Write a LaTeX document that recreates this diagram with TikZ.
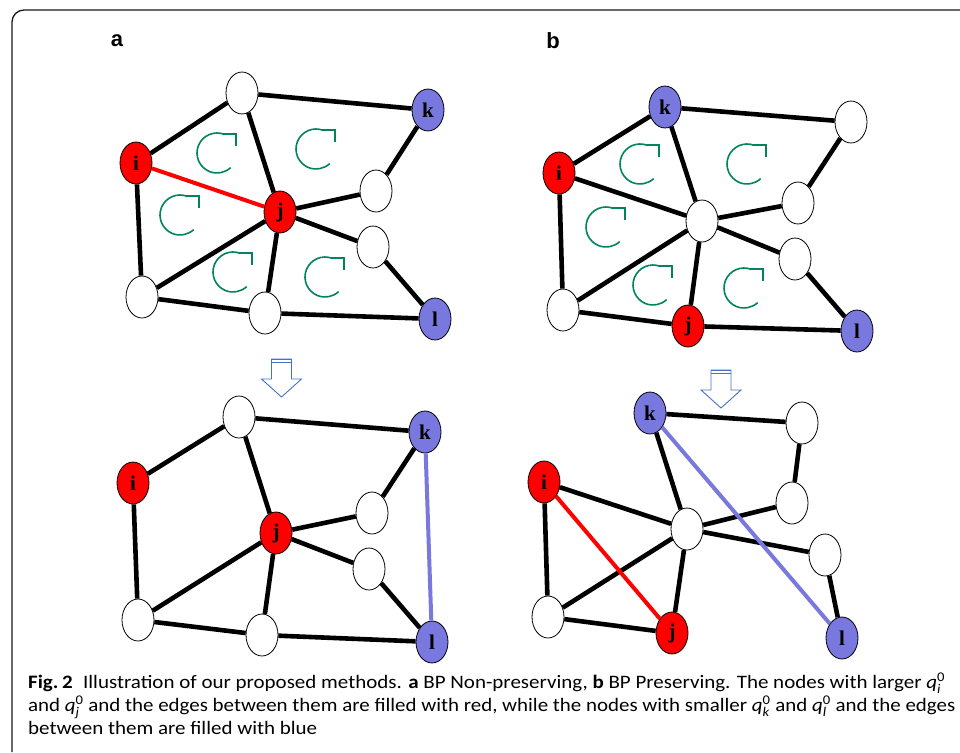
\documentclass[tikz,border=0pt]{standalone}
\usepackage{fontspec}
\usepackage{graphicx}
\usepackage{amsmath}
\setmainfont{Liberation Serif}
\newfontfamily\capfont{Carlito}
\newfontfamily\labfont{Liberation Sans}
\usetikzlibrary{shapes.geometric}
\definecolor{nodeblue}{RGB}{120,120,222}
\definecolor{rotgreen}{RGB}{0,132,92}
\definecolor{arrblue}{RGB}{68,114,196}
\newcommand\qsym[1]{$\text{\capfont\itshape q}^{\text{\capfont 0}}_{\text{\capfont\itshape #1}}$}
\begin{document}
\begin{tikzpicture}[x=1pt,y=-1pt,
  vtx/.style={ellipse, draw=black, line width=0.8pt, minimum width=32pt, minimum height=42pt,
    inner sep=0pt, fill=white, font=\bfseries\fontsize{21}{21}\selectfont},
  rnode/.style={vtx, fill=red},
  bnode/.style={vtx, fill=nodeblue},
  edge/.style={line width=4.6pt, black},
  redge/.style={line width=4pt, red},
  bedge/.style={line width=4pt, nodeblue},
  panel/.style={font=\labfont\bfseries\fontsize{22}{22}\selectfont, inner sep=0pt},
  capline/.style={anchor=base west, inner sep=0pt, font=\capfont\fontsize{19}{19}\selectfont},
  spin/.pic={
    \draw[rotgreen, line width=1.6pt] (68:20pt) arc[start angle=68, end angle=313, radius=20pt];
    \draw[rotgreen, line width=1.6pt] (6pt,19pt) -- (19pt,19pt) -- (19pt,7pt);
  },
  downarrow/.pic={
    \draw[arrblue, line width=0.9pt, fill=white, line join=miter]
      (-10pt,0pt) -- (10pt,0pt) -- (10pt,-20pt) -- (20pt,-20pt) -- (0pt,-38pt)
      -- (-20pt,-20pt) -- (-10pt,-20pt) -- cycle;
    \draw[arrblue, line width=1.6pt] (-10pt,-0.5pt) -- (10pt,-0.5pt);
    \draw[arrblue, line width=1.2pt] (-10pt,-3.8pt) -- (10pt,-3.8pt);
  }]
\useasboundingbox (0,0) rectangle (960,752);
% frame
\draw[black!90, line width=1.3pt] (12,752) -- (12,22) arc[start angle=180, end angle=90, radius=12pt] -- (960,10);

\node[panel] (la) at (117,41) {a};
\node[panel] (lb) at (553,41) {b};

% ---------- panel a top ----------
\node[vtx] (a1) at (242,93) {};
\node[bnode] (ak) at (428,110) {k};
\node[rnode] (ai) at (136,163) {i};
\node[rnode] (aj) at (280,212) {j};
\node[vtx] (ar1) at (376,191) {};
\node[vtx] (ar2) at (373,247) {};
\node[bnode] (al) at (435,319) {l};
\node[vtx] (abl) at (142,297) {};
\node[vtx] (abm) at (265,313) {};
\draw[edge] (ai) -- (a1);
\draw[edge] (a1) -- (ak);
\draw[edge] (a1) -- (aj);
\draw[edge] (ak) -- (ar1);
\draw[edge] (ar1) -- (aj);
\draw[edge] (aj) -- (ar2);
\draw[edge] (ar2) -- (al);
\draw[edge] (ai) -- (abl);
\draw[edge] (abl) -- (aj);
\draw[edge] (aj) -- (abm);
\draw[edge] (abl) -- (abm);
\draw[edge] (abm) -- (al);
\draw[redge] (ai) -- (aj);
\pic at (217,153) {spin};
\pic at (316,149) {spin};
\pic at (180,215) {spin};
\pic at (233,272) {spin};
\pic at (325,277) {spin};

% ---------- panel b top ----------
\node[bnode] (bk) at (665,107) {k};
\node[vtx] (btr) at (851,122) {};
\node[rnode] (bi) at (559,173) {i};
\node[vtx] (bc) at (702,221) {};
\node[vtx] (br1) at (798,203) {};
\node[vtx] (br2) at (795,259) {};
\node[vtx] (bbl) at (563,310) {};
\node[rnode] (bj) at (688,326) {j};
\node[bnode] (bl) at (857,331) {l};
\draw[edge] (bi) -- (bk);
\draw[edge] (bk) -- (btr);
\draw[edge] (bk) -- (bc);
\draw[edge] (btr) -- (br1);
\draw[edge] (br1) -- (bc);
\draw[edge] (bi) -- (bc);
\draw[edge] (bc) -- (br2);
\draw[edge] (br2) -- (bl);
\draw[edge] (bi) -- (bbl);
\draw[edge] (bbl) -- (bc);
\draw[edge] (bc) -- (bj);
\draw[edge] (bbl) -- (bj);
\draw[edge] (bj) -- (bl);
\pic at (640,164) {spin};
\pic at (747,164) {spin};
\pic at (606,227) {spin};
\pic at (653,285) {spin};
\pic at (744,288) {spin};

% ---------- arrows ----------
\pic at (281.5,359) {downarrow};
\pic at (721,370) {downarrow};

% ---------- panel a bottom ----------
\node[vtx] (c1) at (239,417) {};
\node[bnode] (ck) at (425,432) {k};
\node[rnode] (ci) at (133,483) {i};
\node[rnode] (cj) at (276,533) {j};
\node[vtx] (cr1) at (372,513) {};
\node[vtx] (cr2) at (369,569) {};
\node[vtx] (cbl) at (138,620) {};
\node[vtx] (cbm) at (262,635) {};
\node[bnode] (cl) at (432,642) {l};
\draw[edge] (ci) -- (c1);
\draw[edge] (c1) -- (ck);
\draw[edge] (c1) -- (cj);
\draw[edge] (ck) -- (cr1);
\draw[edge] (cr1) -- (cj);
\draw[edge] (cj) -- (cr2);
\draw[edge] (cr2) -- (cl);
\draw[edge] (ci) -- (cbl);
\draw[edge] (cbl) -- (cj);
\draw[edge] (cj) -- (cbm);
\draw[edge] (cbl) -- (cbm);
\draw[edge] (cbm) -- (cl);
\draw[bedge] (ck) -- (cl);

% ---------- panel b bottom ----------
\node[bnode] (dk) at (650,413) {k};
\node[vtx] (dtr) at (802,423) {};
\node[rnode] (di) at (544,482) {i};
\node[vtx] (dr1) at (792,503) {};
\node[vtx] (dc) at (687,529) {};
\node[vtx] (dr2) at (825,555) {};
\node[vtx] (dbl) at (548,617) {};
\node[rnode] (dj) at (672,633) {j};
\node[bnode] (dl) at (842,638) {l};
\draw[edge] (dk) -- (dtr);
\draw[edge] (dtr) -- (dr1);
\draw[edge] (dk) -- (dc);
\draw[edge] (di) -- (dc);
\draw[edge] (dc) -- (dr1);
\draw[edge] (dc) -- (dr2);
\draw[edge] (dr2) -- (dl);
\draw[edge] (di) -- (dbl);
\draw[edge] (dbl) -- (dc);
\draw[edge] (dc) -- (dj);
\draw[edge] (dbl) -- (dj);
\draw[redge] (di) -- (dj);
\draw[bedge] (dk) -- (dl);

% ---------- caption ----------
\node[capline] (cap1) at (28,688) {\resizebox{917pt}{\height}{\textbf{Fig.\,2}\enspace Illustration of our proposed methods. \textbf{a} BP Non-preserving, \textbf{b} BP Preserving. The nodes with larger \qsym{i}}};
\node[capline] (cap2) at (28,711) {\resizebox{927pt}{\height}{and \qsym{j} and the edges between them are filled with red, while the nodes with smaller \qsym{k} and \qsym{l} and the edges}};
\node[capline] (cap3) at (28,734) {\resizebox{289pt}{\height}{between them are filled with blue}};
\end{tikzpicture}
\end{document}
